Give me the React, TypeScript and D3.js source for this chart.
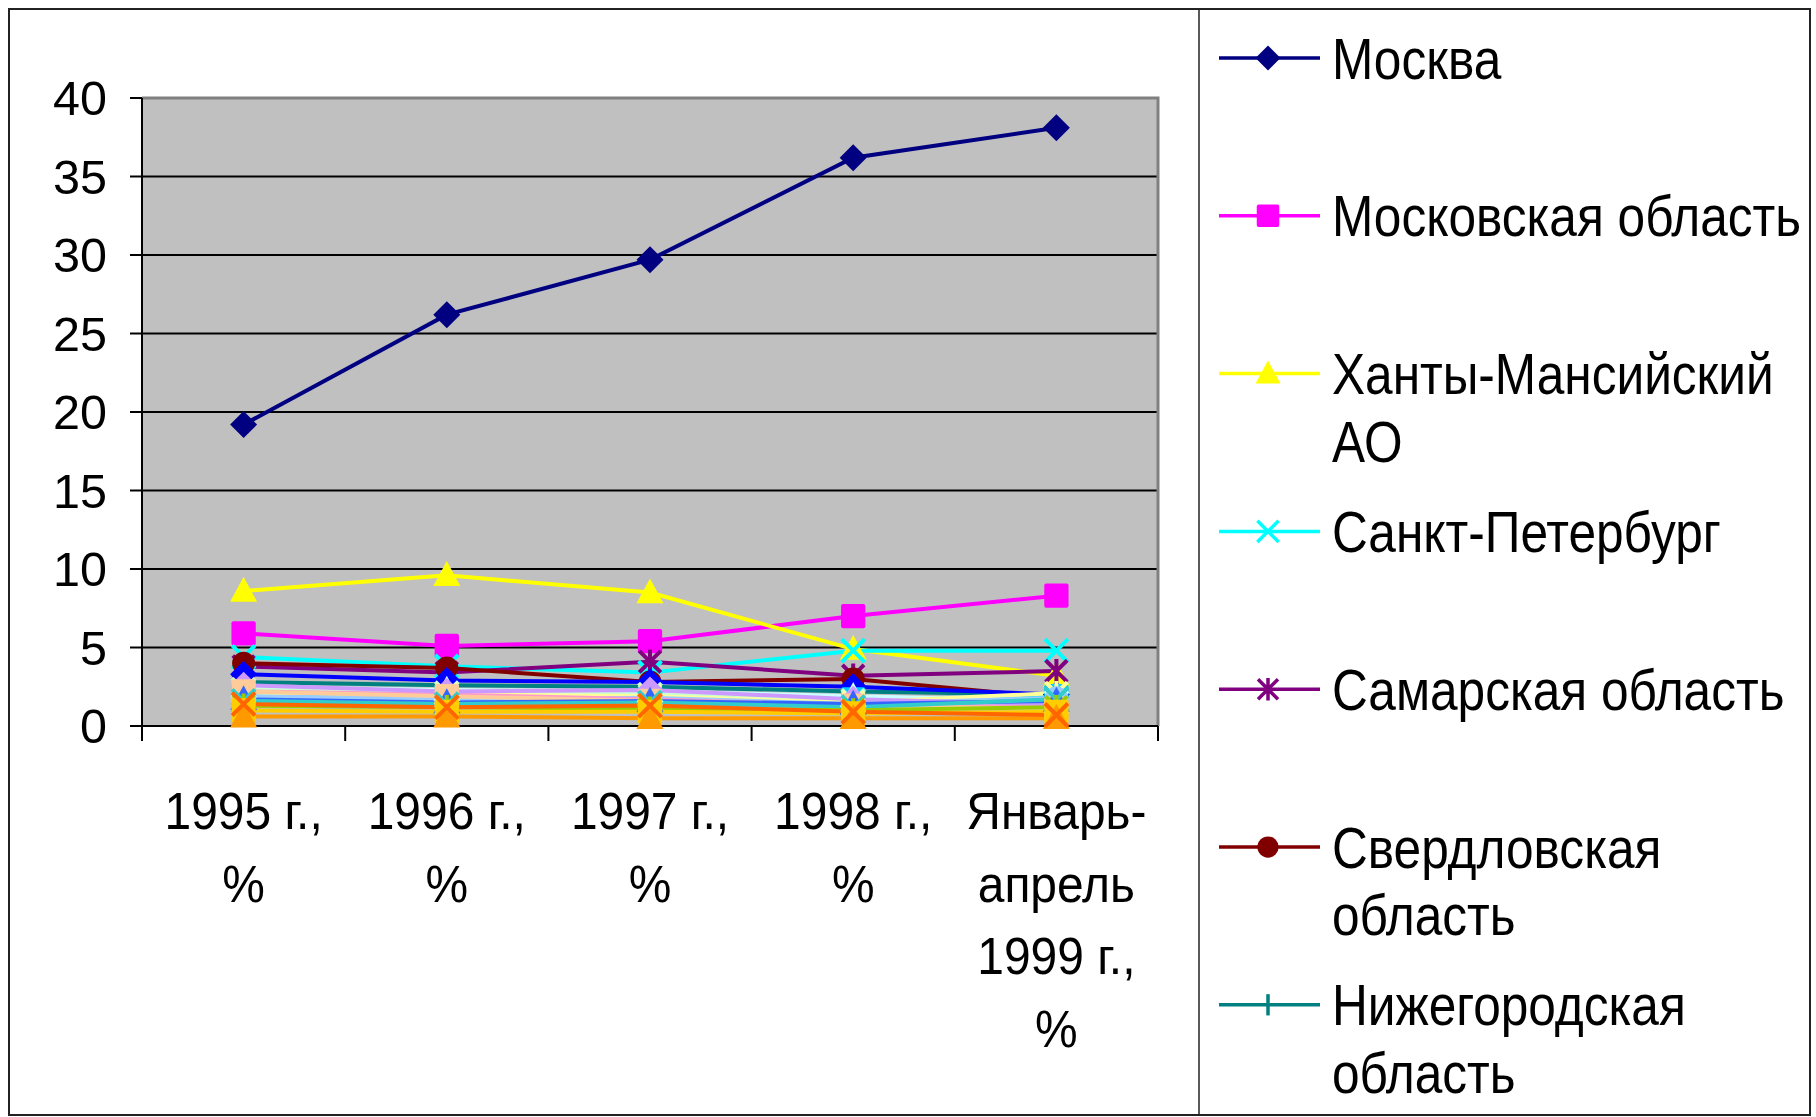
import React from 'react';
import * as d3 from 'd3';

// ---------- DATA ----------
const categories = ['1995', '1996', '1997', '1998', '1999'];
const categoryLabels: string[][] = [
  ['1995 г.,', '%'],
  ['1996 г.,', '%'],
  ['1997 г.,', '%'],
  ['1998 г.,', '%'],
  ['Январь-', 'апрель', '1999 г.,', '%'],
];
const yTicks = [0, 5, 10, 15, 20, 25, 30, 35, 40];

const moskva = [19.2, 26.2, 29.7, 36.2, 38.1];
const moskObl = [5.9, 5.1, 5.4, 7.0, 8.3];
const khanty = [8.6, 9.6, 8.5, 4.9, 3.2];
const spb = [4.4, 3.8, 3.4, 4.8, 4.8];
const samara = [3.8, 3.4, 4.1, 3.2, 3.5];
const sverdl = [4.0, 3.7, 2.8, 3.0, 1.8];
const nizhny = [2.8, 2.6, 2.5, 2.2, 2.0];
const s8 = [3.3, 2.9, 2.8, 2.5, 2.0];
const s9 = [2.0, 1.9, 1.9, 1.7, 1.9];
const s10 = [2.5, 2.3, 2.2, 1.9, 1.6];
const s11 = [2.3, 2.1, 2.0, 1.6, 1.5];
const s12 = [2.1, 2.0, 1.9, 1.5, 2.1];
const s13 = [1.9, 1.7, 1.8, 1.4, 1.8];
const s14 = [2.2, 2.0, 1.7, 1.3, 1.2];
const s15 = [2.6, 2.2, 2.3, 1.7, 1.4];
const s16 = [2.2, 1.9, 1.6, 1.3, 1.1];
const s17 = [1.7, 1.5, 1.6, 1.4, 1.6];
const s18 = [1.6, 1.4, 1.5, 1.2, 1.7];
const s19 = [1.3, 1.2, 1.1, 1.0, 1.2];
const s20 = [1.0, 0.9, 0.9, 0.8, 0.9];
const s21 = [0.6, 0.6, 0.5, 0.5, 0.5];
const s22 = [1.4, 1.2, 1.3, 0.9, 0.7];

const seriesNames = [
  'Москва', 'Московская область', 'Ханты-Мансийский АО', 'Санкт-Петербург',
  'Самарская область', 'Свердловская область', 'Нижегородская область',
  'Республика Татарстан', 'Красноярский край', 'Тюменская область', 'Республика Башкортостан',
  'Челябинская область', 'Пермская область', 'Иркутская область', 'Кемеровская область',
  'Ямало-Ненецкий АО', 'Краснодарский край', 'Ростовская область', 'Республика Саха (Якутия)',
  'Новосибирская область', 'Оренбургская область', 'Вологодская область',
];
const seriesValues = [moskva, moskObl, khanty, spb, samara, sverdl, nizhny, s8, s9, s10, s11,
  s12, s13, s14, s15, s16, s17, s18, s19, s20, s21, s22];
const legendLines: string[][] = [
  ['Москва'], ['Московская область'], ['Ханты-Мансийский', 'АО'], ['Санкт-Петербург'],
  ['Самарская область'], ['Свердловская', 'область'], ['Нижегородская', 'область'],
];

// ---------- STYLES ----------
const seriesColors = ['#000080', '#FF00FF', '#FFFF00', '#00FFFF', '#800080', '#800000', '#008080',
  '#0000FF', '#00CCFF', '#CCFFFF', '#CCFFCC', '#FFFF99', '#99CCFF', '#FF99CC', '#CC99FF', '#FFCC99',
  '#3366FF', '#33CCCC', '#99CC00', '#FFCC00', '#FF9900', '#FF6600'];
const seriesMarkers = ['diamond', 'square', 'triangle', 'x', 'star', 'circle', 'plus',
  'diamond', 'square', 'triangle', 'x', 'star', 'circle', 'plus', 'diamond', 'square',
  'triangle', 'x', 'star', 'square', 'triangle', 'x'];

const W = 1816, H = 1117;
const plot = { left: 142, right: 1158, top: 98, bottom: 726 };
const FONT = '"Liberation Sans", Arial, sans-serif';

function Marker({ type, color, cx, cy, s, sw }: { type: string; color: string; cx: number; cy: number; s: number; sw: number }) {
  const h = s / 2;
  switch (type) {
    case 'diamond':
      return <path d={`M${cx},${cy - h}L${cx + h},${cy}L${cx},${cy + h}L${cx - h},${cy}Z`} fill={color} />;
    case 'square':
      return <rect x={cx - h * 0.9} y={cy - h * 0.9} width={s * 0.9} height={s * 0.9} rx={2} fill={color} />;
    case 'triangle':
      return <path d={`M${cx},${cy - h * 1.05}L${cx + h},${cy + h * 0.8}L${cx - h},${cy + h * 0.8}Z`} fill={color} />;
    case 'circle':
      return <circle cx={cx} cy={cy} r={h * 0.85} fill={color} />;
    case 'x':
      return <path d={`M${cx - h * 0.85},${cy - h * 0.85}L${cx + h * 0.85},${cy + h * 0.85}M${cx + h * 0.85},${cy - h * 0.85}L${cx - h * 0.85},${cy + h * 0.85}`} stroke={color} strokeWidth={sw} fill="none" />;
    case 'plus':
      return <path d={`M${cx},${cy - h * 0.85}L${cx},${cy + h * 0.85}`} stroke={color} strokeWidth={sw} fill="none" />;
    case 'star':
      return <path d={`M${cx - h * 0.8},${cy - h * 0.8}L${cx + h * 0.8},${cy + h * 0.8}M${cx + h * 0.8},${cy - h * 0.8}L${cx - h * 0.8},${cy + h * 0.8}M${cx},${cy - h * 0.9}L${cx},${cy + h * 0.9}`} stroke={color} strokeWidth={sw} fill="none" />;
    default:
      return null;
  }
}

export default function App() {
  const x = d3.scaleBand<string>().domain(categories).range([plot.left, plot.right]).padding(0);
  const y = d3.scaleLinear().domain([0, 40]).range([plot.bottom, plot.top]);
  const cx = (c: string) => (x(c) as number) + x.bandwidth() / 2;
  const line = d3.line<number>().x((_, i) => cx(categories[i])).y((v) => y(v));
  const boundaries = categories.map((c) => x(c) as number).concat([plot.right]);

  const legendX0 = 1219, legendX1 = 1320, legendMx = 1268, legendTx = 1332;
  const legendY0 = 58, legendStep = 157.8, legendLineH = 67.5;

  return (
    <svg width={W} height={H} style={{ position: 'absolute', left: 0, top: 0, background: '#fff' }}>
      <rect x={9} y={9} width={1801} height={1106} fill="#fff" stroke="#222" strokeWidth={2} />
      <line x1={1199} y1={9} x2={1199} y2={1115} stroke="#222" strokeWidth={1.5} />

      {/* plot area */}
      <rect x={plot.left} y={plot.top} width={plot.right - plot.left} height={plot.bottom - plot.top} fill="#C0C0C0" />
      {yTicks.filter((t) => t > 0 && t < 40).map((t) => (
        <line key={t} x1={plot.left} x2={plot.right} y1={y(t)} y2={y(t)} stroke="#000" strokeWidth={2} />
      ))}
      <path d={`M${plot.left},${plot.top}L${plot.right},${plot.top}L${plot.right},${plot.bottom}`} fill="none" stroke="#808080" strokeWidth={3} />
      <line x1={plot.left} x2={plot.left} y1={plot.top} y2={plot.bottom} stroke="#000" strokeWidth={2} />
      <line x1={plot.left} x2={plot.right} y1={plot.bottom} y2={plot.bottom} stroke="#000" strokeWidth={2} />

      {/* y ticks */}
      {yTicks.map((t) => (
        <g key={t}>
          <line x1={plot.left - 12} x2={plot.left} y1={y(t)} y2={y(t)} stroke="#000" strokeWidth={2} />
          <text x={107} y={y(t)} dy="0.36em" textAnchor="end" fontFamily={FONT} fontSize={48.5} fill="#000">{t}</text>
        </g>
      ))}

      {/* x ticks */}
      {boundaries.map((b, i) => (
        <line key={i} x1={b} x2={b} y1={plot.bottom} y2={plot.bottom + 15} stroke="#000" strokeWidth={2} />
      ))}
      {categories.map((c, i) => (
        <g key={c} transform={`translate(${cx(c)},0) scale(0.94,1)`}>
          {categoryLabels[i].map((l, j) => (
            <text key={j} x={0} y={811 + j * 72.4} dy="0.36em" textAnchor="middle" fontFamily={FONT} fontSize={51} fill="#000">{l}</text>
          ))}
        </g>
      ))}

      {/* series */}
      {seriesValues.map((vals, si) => (
        <path key={si} d={line(vals) as string} fill="none" stroke={seriesColors[si]} strokeWidth={4} />
      ))}
      {seriesValues.map((vals, si) => (
        <g key={'m' + si}>
          {vals.map((v, i) => (
            <Marker key={i} type={seriesMarkers[si]} color={seriesColors[si]} cx={cx(categories[i])} cy={y(v)} s={27} sw={4} />
          ))}
        </g>
      ))}

      {/* legend */}
      {legendLines.map((lines, i) => {
        const yy = legendY0 + i * legendStep;
        return (
          <g key={i}>
            <line x1={legendX0} x2={legendX1} y1={yy} y2={yy} stroke={seriesColors[i]} strokeWidth={3.5} />
            <Marker type={seriesMarkers[i]} color={seriesColors[i]} cx={legendMx} cy={yy} s={25} sw={3.5} />
            <g transform={`translate(${legendTx},0) scale(0.87,1)`}>
              {lines.map((l, j) => (
                <text key={j} x={0} y={yy + j * legendLineH} dy="0.36em" fontFamily={FONT} fontSize={57} fill="#000">{l}</text>
              ))}
            </g>
          </g>
        );
      })}
    </svg>
  );
}
